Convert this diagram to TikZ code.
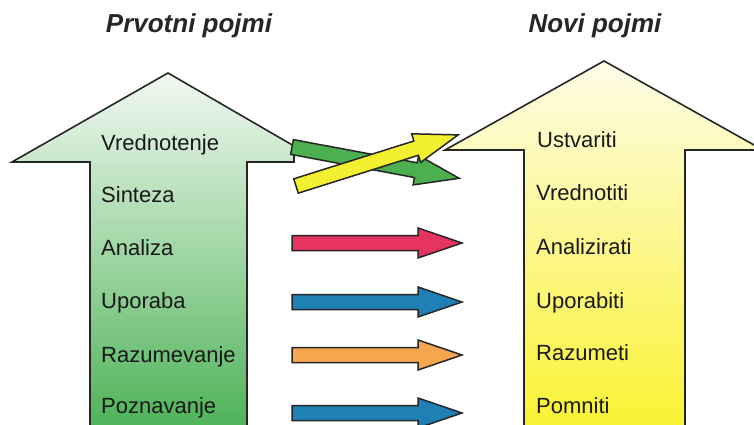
\documentclass[tikz,border=0pt]{standalone}
\usepackage{fontspec}
\setmainfont{Liberation Sans}
\definecolor{gTop}{HTML}{F2F9F1}
\definecolor{gBot}{HTML}{4DB257}
\definecolor{yTop}{HTML}{FEFCE8}
\definecolor{yBot}{HTML}{FAF230}
\definecolor{aRed}{HTML}{E6335F}
\definecolor{aBlue}{HTML}{1F80B6}
\definecolor{aOrange}{HTML}{F7A650}
\definecolor{aGreen}{HTML}{4CB050}
\definecolor{aYellow}{HTML}{F3F032}
\begin{document}
\begin{tikzpicture}[x=1pt,y=-1pt,
  bigarrow/.style={line width=1.6pt, draw=black!85, line join=miter},
  lbl/.style={anchor=base west, inner sep=0pt, font=\fontsize{22}{26}\selectfont, text=black!90},
  ttl/.style={anchor=base, inner sep=0pt, font=\fontsize{26}{30}\selectfont\bfseries\itshape, text=black!85},
  fat/.pic={\filldraw[line width=1.5pt, draw=black!85, line join=miter, pic actions]
     (0,-7.5) -- (126,-7.5) -- (126,-15) -- (170,0) -- (126,15) -- (126,7.5) -- (0,7.5) -- cycle;}
]
\clip (0,0) rectangle (754,425);
\fill[white] (0,0) rectangle (754,425);
% big arrows
\draw[bigarrow, top color=gTop, bottom color=gBot]
  (90,432) -- (90,162) -- (12,162) -- (168,73) -- (294,146) -- (294,162) -- (247,162) -- (247,432) -- cycle;
\draw[bigarrow, top color=yTop, bottom color=yBot]
  (524,432) -- (524,150) -- (445,150) -- (604,61) -- (763,150) -- (685,150) -- (685,432) -- cycle;
% titles
\node[ttl] (t1) at (189,33) {Prvotni pojmi};
\node[ttl] (t2) at (595,33) {Novi pojmi};
% left labels
\node[lbl] (l1) at (101,150) {Vrednotenje};
\node[lbl] (l2) at (101,202) {Sinteza};
\node[lbl] (l3) at (101,255) {Analiza};
\node[lbl] (l4) at (101,308) {Uporaba};
\node[lbl] (l5) at (101,362) {Razumevanje};
\node[lbl] (l6) at (101,413) {Poznavanje};
% right labels
\node[lbl] (r1) at (537,147) {Ustvariti};
\node[lbl] (r2) at (536,200) {Vrednotiti};
\node[lbl] (r3) at (536,254) {Analizirati};
\node[lbl] (r4) at (536,308) {Uporabiti};
\node[lbl] (r5) at (536,360) {Razumeti};
\node[lbl] (r6) at (536,413) {Pomniti};
% arrow tails
\coordinate (a1) at (292,147);
\coordinate (a2) at (296,186);
\coordinate (a3) at (292,243);
\coordinate (a4) at (292,302);
\coordinate (a5) at (292,355);
\coordinate (a6) at (292,413);
\pic[fill=aGreen, rotate=-10.6] at (a1) {fat};
\pic[fill=aYellow, rotate=17.5] at (a2) {fat};
\pic[fill=aRed] at (a3) {fat};
\pic[fill=aBlue] at (a4) {fat};
\pic[fill=aOrange] at (a5) {fat};
\pic[fill=aBlue] at (a6) {fat};
\end{tikzpicture}
\end{document}
